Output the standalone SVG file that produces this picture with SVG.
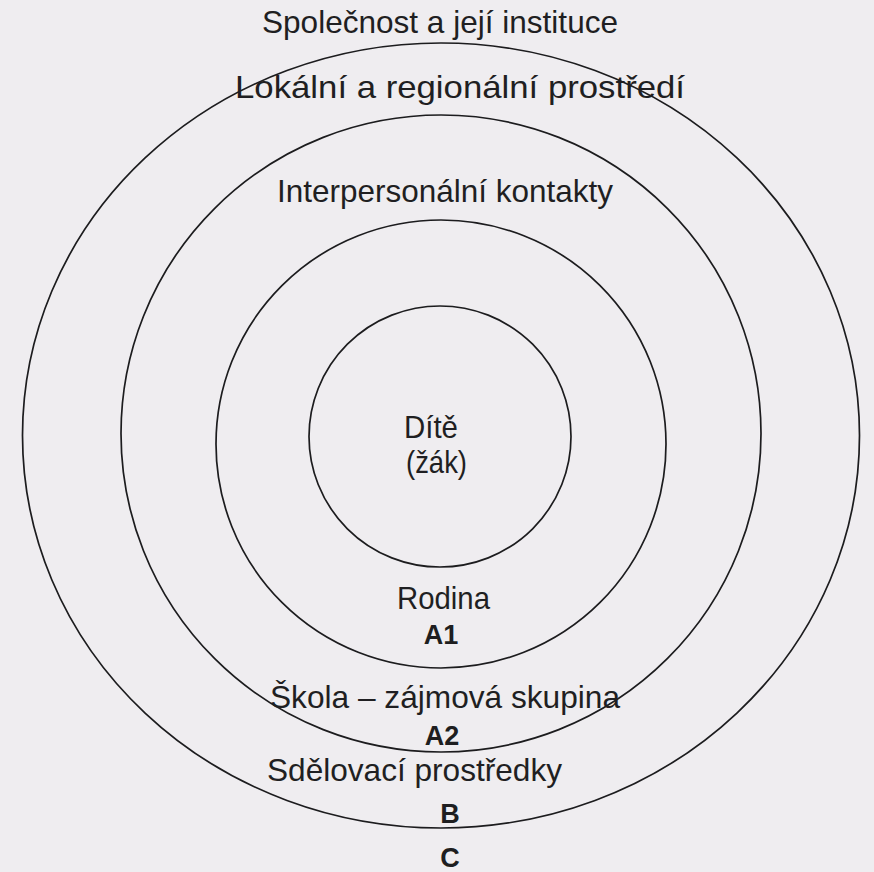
<svg xmlns="http://www.w3.org/2000/svg" width="874" height="872" viewBox="0 0 874 872">
  <style>
    .ring { fill: none; stroke: #1c1c1e; stroke-width: 1.7; }
    .lbl { font-family: "Liberation Sans", Arial, sans-serif; font-size: 32px; fill: #1f1f22; text-anchor: start; }
    .code { font-family: "Liberation Sans", Arial, sans-serif; font-size: 27px; font-weight: bold; fill: #1e1e20; text-anchor: middle; }
  </style>
  <rect x="0" y="0" width="874" height="872" fill="#efedf0"/>
  <g id="ring-C">
    <ellipse class="ring" cx="441" cy="435.5" rx="418.5" ry="392.5"/>
    <text class="lbl" x="262" y="33" textLength="356" lengthAdjust="spacingAndGlyphs">Společnost a její instituce</text>
    <text class="code" x="450" y="867">C</text>
  </g>
  <g id="ring-B">
    <ellipse class="ring" cx="441" cy="433.5" rx="320" ry="318.5"/>
    <text class="lbl" x="235" y="98" textLength="450" lengthAdjust="spacingAndGlyphs">Lokální a regionální prostředí</text>
    <text class="lbl" x="267" y="781" textLength="295" lengthAdjust="spacingAndGlyphs">Sdělovací prostředky</text>
    <text class="code" x="450" y="823">B</text>
  </g>
  <g id="ring-A2">
    <ellipse class="ring" cx="441" cy="444" rx="225" ry="224"/>
    <text class="lbl" x="277" y="202" textLength="336" lengthAdjust="spacingAndGlyphs">Interpersonální kontakty</text>
    <text class="lbl" x="270" y="708" textLength="350" lengthAdjust="spacingAndGlyphs">Škola – zájmová skupina</text>
    <text class="code" x="442" y="745">A2</text>
  </g>
  <g id="ring-A1">
    <ellipse class="ring" cx="440" cy="436.5" rx="131" ry="130.5"/>
    <text class="lbl" x="397" y="609" textLength="93" lengthAdjust="spacingAndGlyphs">Rodina</text>
    <text class="code" x="441" y="644">A1</text>
  </g>
  <g id="child">
    <text class="lbl" x="404" y="438" textLength="54" lengthAdjust="spacingAndGlyphs">Dítě</text>
    <text class="lbl" x="406" y="473" textLength="61" lengthAdjust="spacingAndGlyphs">(žák)</text>
  </g>
  <g id="connectors"/>
</svg>
